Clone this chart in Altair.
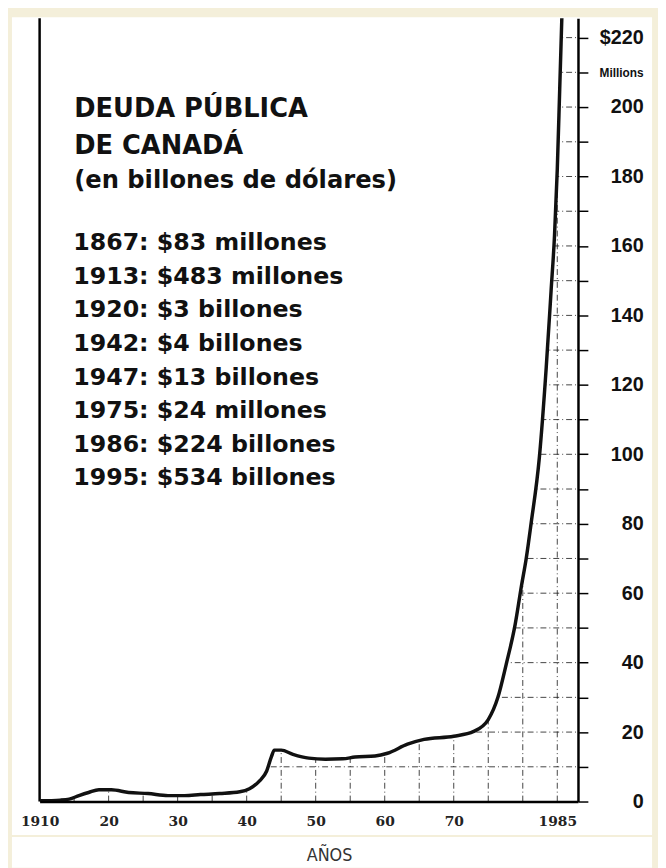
import altair as alt
import pandas as pd

# ---- data ----
years = [1910.0, 1913.0, 1914.3, 1915.7, 1917.1, 1918.6, 1920.4, 1922.9, 1925.7, 1928.6,
         1931.0, 1933.3, 1936.1, 1939.0, 1940.4, 1941.9, 1942.9, 1943.6, 1944.0, 1945.0,
         1946.7, 1949.0, 1951.4, 1953.9, 1955.7, 1958.6, 1960.4, 1963.3, 1965.7, 1970.0,
         1972.9, 1975.0, 1976.4, 1977.6, 1978.9, 1979.8, 1980.5, 1981.2, 1982.4, 1983.4,
         1984.1, 1984.6, 1985.0, 1985.35, 1985.65, 1985.8]
debt = [0.2, 0.4, 0.7, 1.7, 2.6, 3.4, 3.4, 2.6, 2.3, 1.7,
        1.7, 2.0, 2.3, 2.8, 3.7, 6.0, 8.8, 13.0, 14.8, 14.8,
        13.6, 12.5, 12.2, 12.3, 12.8, 13.1, 13.9, 16.5, 17.9, 18.8,
        20.2, 23.6, 30.0, 39.5, 51.0, 62.0, 70.0, 80.0, 99.0, 125.0,
        147.0, 163.0, 182.0, 205.0, 225.0, 235.0]

x_ticks = [1910, 1920, 1930, 1940, 1950, 1960, 1970, 1985]
y_ticks = list(range(0, 221, 10))
grid_years = list(range(1915, 1986, 5))
grid_values = list(range(10, 221, 10))

title_lines = ["DEUDA PÚBLICA", "DE CANADÁ"]
subtitle = "(en billones de dólares)"
note_lines = [
    "1867: $83 millones",
    "1913: $483 millones",
    "1920: $3 billones",
    "1942: $4 billones",
    "1947: $13 billones",
    "1975: $24 millones",
    "1986: $224 billones",
    "1995: $534 billones",
]
x_title = "AÑOS"

X_MIN, X_MAX = 1910, 1988
Y_MIN, Y_MAX = 0, 225.6

df = pd.DataFrame({"year": years, "debt": debt})
gx = pd.DataFrame({"year": grid_years})
gy = pd.DataFrame({"v": grid_values})

xs = alt.Scale(domain=[X_MIN, X_MAX], nice=False, zero=False)
ys = alt.Scale(domain=[Y_MIN, Y_MAX], nice=False)

x_axis = alt.Axis(
    values=x_ticks,
    labelExpr="datum.value == 1910 || datum.value == 1985 ? '' + datum.value : '' + (datum.value - 1900)",
    grid=False, ticks=False, domain=True, domainColor="black", domainWidth=2.5,
    labelFont="DejaVu Serif", labelFontSize=14, labelFontWeight="bold", labelColor="#222",
    labelPadding=13, labelFlush=False, labelOverlap=False,
    title=x_title, titleFont="Liberation Sans Narrow, DejaVu Sans Condensed, sans-serif",
    titleFontSize=18, titleFontWeight="normal", titleColor="#333",
    titleX=293, titleY=55, titleBaseline="middle", titleAlign="center",
    zindex=1,
)
y_axis = alt.Axis(
    orient="right", values=y_ticks,
    labelExpr="datum.value == 220 ? '$220' : datum.value == 210 ? 'Millions' : (datum.value % 20 == 0 ? '' + datum.value : '')",
    grid=False, domain=True, domainColor="black", domainWidth=2.5,
    ticks=True, tickSize=10, tickColor="black", tickWidth=1.5,
    labelFont="Liberation Sans", labelFontWeight="bold", labelColor="#111",
    labelFontSize={"condition": {"test": "datum.value == 210", "value": 12}, "value": 20},
    labelAlign="right", labelBaseline="middle", labelPadding=56,
    labelOverlap=False, labelFlush=False,
    title=None, zindex=1,
)

one = alt.Data(values=[{"a": 1}])

panel = alt.Chart(one).mark_rect(color="white").encode(
    x=alt.value(-28), x2=alt.value(620), y=alt.value(-1), y2=alt.value(827))
band = alt.Chart(one).mark_rect(color="white").encode(
    x=alt.value(-28), x2=alt.value(620), y=alt.value(829), y2=alt.value(860))

dash = [6, 3, 1, 3]
vgrid = alt.Chart(gx).mark_rule(color="#222", strokeWidth=1, strokeDash=dash, opacity=0.85).encode(
    x=alt.X("year:Q", scale=xs, axis=x_axis),
    y=alt.YDatum(Y_MIN, scale=ys, axis=y_axis),
    y2=alt.Y2Datum(Y_MAX),
)
hgrid = alt.Chart(gy).mark_rule(color="#222", strokeWidth=1, strokeDash=dash, opacity=0.85).encode(
    y=alt.Y("v:Q", scale=ys, axis=y_axis),
    x=alt.XDatum(X_MIN, scale=xs, axis=x_axis),
    x2=alt.X2Datum(X_MAX),
)

mask = alt.Chart(df).mark_area(color="white", interpolate="monotone", clip=True).encode(
    x=alt.X("year:Q", scale=xs, axis=x_axis),
    y=alt.Y("debt:Q", scale=ys, axis=y_axis),
    y2=alt.Y2Datum(Y_MAX),
)

left_frame = alt.Chart(one).mark_rule(color="black", strokeWidth=2.5).encode(
    x=alt.XDatum(X_MIN, scale=xs, axis=x_axis),
    y=alt.YDatum(Y_MIN, scale=ys, axis=y_axis),
    y2=alt.Y2Datum(Y_MAX),
)

line = alt.Chart(df).mark_line(color="#111", strokeWidth=3.5, interpolate="monotone", clip=True).encode(
    x=alt.X("year:Q", scale=xs, axis=x_axis),
    y=alt.Y("debt:Q", scale=ys, axis=y_axis),
)

title_txt = alt.Chart(pd.DataFrame({"t": ["\n".join(title_lines)]})).mark_text(
    align="left", baseline="alphabetic", lineBreak="\n", lineHeight=38,
    font="DejaVu Sans", fontSize=26, fontWeight="bold", color="#111",
).encode(text="t:N", x=alt.value(35), y=alt.value(100))

sub_txt = alt.Chart(pd.DataFrame({"t": [subtitle]})).mark_text(
    align="left", baseline="alphabetic",
    font="DejaVu Sans", fontSize=24.5, fontWeight="bold", color="#111",
).encode(text="t:N", x=alt.value(35), y=alt.value(172))

notes_txt = alt.Chart(pd.DataFrame({"t": ["\n".join(note_lines)]})).mark_text(
    align="left", baseline="alphabetic", lineBreak="\n", lineHeight=34,
    font="DejaVu Sans", fontSize=24, fontWeight="bold", color="#111",
).encode(text="t:N", x=alt.value(34), y=alt.value(235))

chart = alt.layer(
    panel, band, vgrid, hgrid, mask, left_frame, line, title_txt, sub_txt, notes_txt
).properties(
    width=545, height=793,
    autosize=alt.AutoSizeParams(type="none"),
    padding={"left": 32, "top": 5, "right": 81, "bottom": 62},
    background="#f4efda",
).configure_view(stroke=None)

chart.save("out.html", embed_options={"renderer": "svg", "actions": False})
